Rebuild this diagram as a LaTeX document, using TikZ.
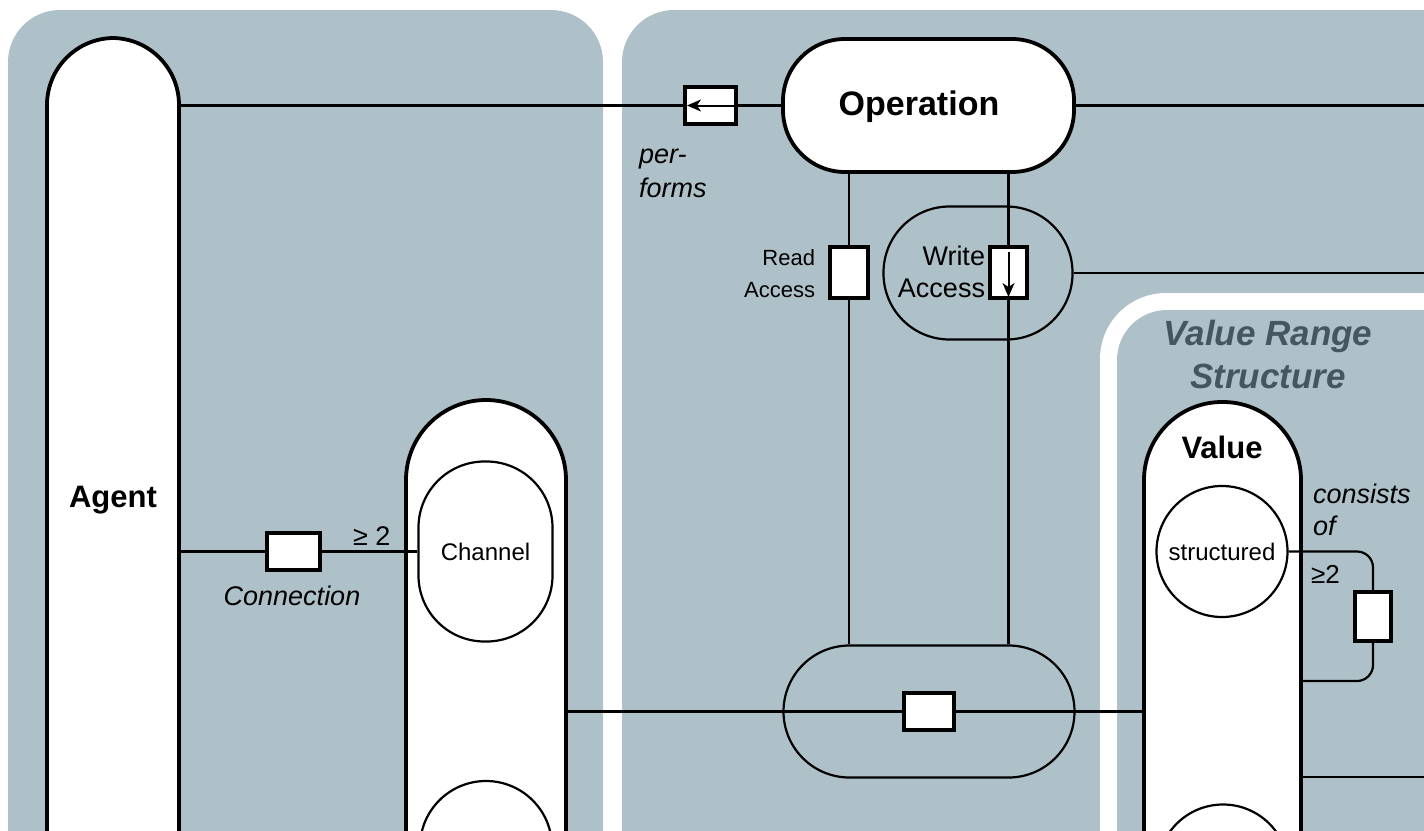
\documentclass[tikz,border=0pt]{standalone}
\usepackage{fontspec}
\setmainfont{Liberation Sans}
\usetikzlibrary{arrows.meta}
\definecolor{panel}{RGB}{175,193,200}
\definecolor{titlec}{RGB}{70,86,95}
\newcommand\fbold{\fontsize{31}{36}\selectfont\bfseries}
\newcommand\fop{\fontsize{34}{40}\selectfont\bfseries}
\newcommand\ftitle{\fontsize{35}{40}\selectfont\bfseries\itshape}
\newcommand\fital{\fontsize{27}{32}\selectfont\itshape}
\newcommand\freg{\fontsize{24}{28}\selectfont}
\newcommand\fread{\fontsize{22}{26}\selectfont}
\newcommand\fwrite{\fontsize{27}{30}\selectfont}
\begin{document}
\begin{tikzpicture}[x=1pt,y=-1pt,
  bignode/.style={draw, line width=3.8pt, fill=white, rectangle, inner sep=0pt},
  thinshape/.style={draw, line width=2.2pt, rectangle, inner sep=0pt},
  conn/.style={line width=2.2pt},
  minibox/.style={draw, line width=4pt, fill=white, rectangle, inner sep=0pt},
  txt/.style={inner sep=0pt, outer sep=0pt},
  arrowin/.style={line width=2pt, -{Stealth[length=14pt,width=12pt,inset=4pt]}}
]
\useasboundingbox (0,0) rectangle (1424,830);
\clip (0,0) rectangle (1424,830);
% panels
\fill[panel, rounded corners=52pt] (8,10) rectangle (603,950);
\fill[panel, rounded corners=52pt] (622,10) rectangle (1550,950);
\fill[white, rounded corners=66pt] (1100,293) rectangle (1550,950);
\fill[panel, rounded corners=50pt] (1117,310) rectangle (1550,950);
% large shapes
\node[bignode, rounded corners=67pt, minimum width=132pt, minimum height=924pt, font=\fbold] (agent) at (113,500) {Agent};
\node[bignode, rounded corners=80pt, minimum width=160pt, minimum height=800pt] (chout) at (486,800) {};
\node[thinshape, fill=white, rounded corners=66pt, minimum width=134pt, minimum height=180pt, font=\freg] (chan) at (485.5,551.5) {Channel};
\node[thinshape, fill=white, circle, minimum size=132pt] (chbot) at (486,847) {};
\node[bignode, rounded corners=62pt, minimum width=291pt, minimum height=133pt] (op) at (928.5,105.5) {};
\node[thinshape, rounded corners=66pt, minimum width=189pt, minimum height=133pt] (wa) at (978,273) {};
\node[thinshape, rounded corners=66pt, minimum width=291pt, minimum height=132pt] (bot) at (929,711.5) {};
\node[bignode, rounded corners=78pt, minimum width=157pt, minimum height=800pt] (value) at (1222.5,802) {};
\node[thinshape, fill=white, circle, minimum size=131pt, font=\freg] (struct) at (1222,551.5) {structured};
\node[thinshape, fill=white, circle, minimum size=131pt] (vbot) at (1223,870) {};
% small boxes
\node[minibox, minimum width=51pt, minimum height=37pt] (perf) at (710.5,105.5) {};
\node[minibox, minimum width=38pt, minimum height=51pt] (rbox) at (849,272.5) {};
\node[minibox, minimum width=37pt, minimum height=51pt] (wbox) at (1008.5,272.5) {};
\node[minibox, minimum width=53pt, minimum height=37pt] (cbox) at (293.5,551.5) {};
\node[minibox, minimum width=50pt, minimum height=37pt] (bbox) at (929,711.5) {};
\node[minibox, minimum width=36pt, minimum height=49pt] (kbox) at (1373,616.5) {};
% helper coordinates
\coordinate (R) at (1424,0);
\coordinate (vl) at (0,777);
\coordinate (lb) at (0,681);
% connectors
\draw[conn] (agent.east |- perf.west) -- (perf.west);
\draw[conn] (perf.east) -- (op.west);
\draw[conn] (op.east) -- (op.east -| R);
\draw[conn] (rbox.north |- op.south) -- (rbox.north);
\draw[conn] (rbox.south) -- (rbox.south |- bot.north);
\draw[conn] (wbox.north |- op.south) -- (wbox.north);
\draw[conn] (wbox.south) -- (wbox.south |- bot.north);
\draw[conn] (wa.east) -- (wa.east -| R);
\draw[conn] (agent.east |- cbox.west) -- (cbox.west);
\draw[conn] (cbox.east) -- (chan.west);
\draw[conn] (chout.east |- bbox.west) -- (bbox.west);
\draw[conn] (bbox.east) -- (value.west |- bbox.east);
\draw[conn] (value.east |- vl) -- (R |- vl);
\draw[conn, rounded corners=16pt] (struct.east) -- (kbox.north |- struct.east) -- (kbox.north);
\draw[conn, rounded corners=16pt] (kbox.south) -- (kbox.south |- lb) -- (value.east |- lb);
% direction arrows inside boxes
\draw[arrowin, shorten <=4pt, shorten >=4pt] (perf.east) -- (perf.west);
\draw[arrowin, shorten <=7pt, shorten >=3pt] (wbox.north) -- (wbox.south);
% labels
\node[txt, anchor=base, font=\fop] (oplbl) at (919,115) {Operation};
\node[txt, anchor=base west, font=\fital] (perfa) at (639,163) {per-};
\node[txt, anchor=base west, font=\fital] (perfb) at (639,197) {forms};
\node[txt, anchor=base east, font=\fread] (ra1) at (815,265) {Read};
\node[txt, anchor=base east, font=\fread] (ra2) at (815,297) {Access};
\node[txt, anchor=base east, font=\fwrite] (wa1) at (985,265) {Write};
\node[txt, anchor=base east, font=\fwrite] (wa2) at (985,297) {Access};
\node[txt, anchor=base, font=\fital] (conlbl) at (292,605) {Connection};
\node[txt, anchor=base west, font=\fontsize{27}{32}\selectfont] (ge1) at (353,545) {≥ 2};
\node[txt, anchor=base west, font=\fital] (cons1) at (1313,503) {consists};
\node[txt, anchor=base west, font=\fital] (cons2) at (1313,535) {of};
\node[txt, anchor=base west, font=\fontsize{26}{30}\selectfont] (ge2) at (1311,583) {≥2};
\node[txt, anchor=base, font=\fbold] (vlbl) at (1222,458) {Value};
\node[txt, anchor=base, font=\ftitle, text=titlec] (t1) at (1268,345) {Value Range};
\node[txt, anchor=base, font=\ftitle, text=titlec] (t2) at (1268,388) {Structure};
\end{tikzpicture}
\end{document}
